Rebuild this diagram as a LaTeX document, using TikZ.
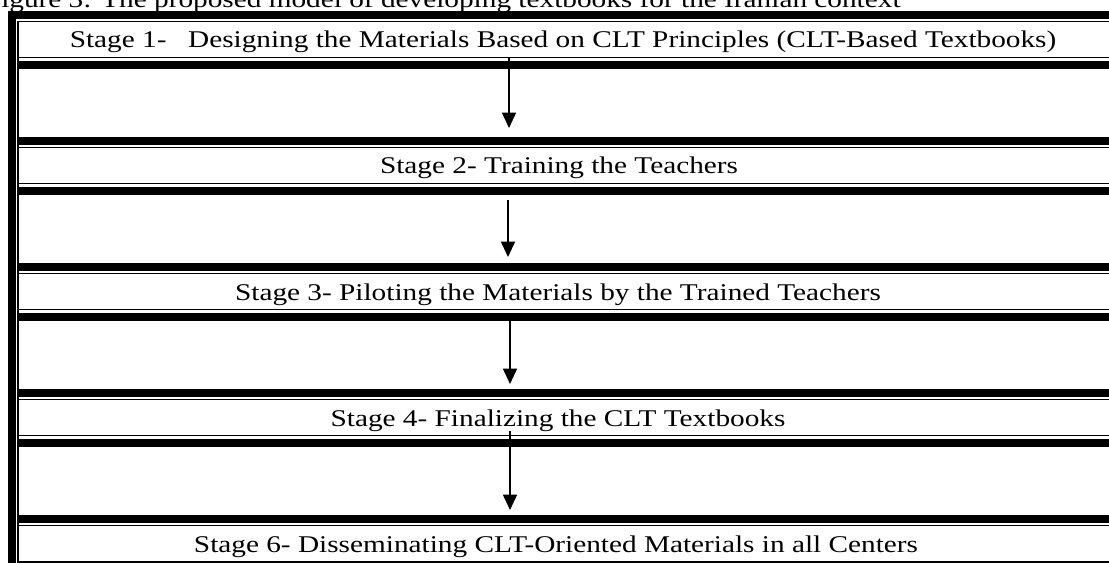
\documentclass[tikz,border=0pt]{standalone}
\usepackage{fontspec}
\setmainfont{Liberation Serif}[FakeStretch=1.22]
\usetikzlibrary{arrows.meta}

\begin{document}
\begin{tikzpicture}[x=0.75pt,y=-0.75pt,
        fino/.style={line width=1.4pt},
        etapa/.style={anchor=base,inner sep=0pt,font=\fontsize{18}{22}\selectfont},
        flecha/.style={-{Triangle[width=10.5pt,length=11.5pt]},line width=1.2pt}]
    %colores
    \colorlet{borde}{black}

    \clip (0,0) rectangle (1109,563);

    % Titulo
    \node[etapa,anchor=base west] (titulo) at (1,8) {igure 3: The proposed model of developing textbooks for the Iranian context};

    % Marco
    \fill[borde] (8,11) rectangle (16,563);
    \fill[borde] (8,11) rectangle (1115,19);
    \draw[borde,fino] (18,21.5) -- (18,563);
    \draw[borde,fino] (18,562.5) -- (1115,562.5);

    % Filas con texto
    \foreach \k/\cx/\txt in {1/563/{Stage 1-\hspace{0.9em}Designing the Materials Based on CLT Principles (CLT-Based Textbooks)},
        2/559/{Stage 2- Training the Teachers},
        3/558/{Stage 3- Piloting the Materials by the Trained Teachers},
        4/558/{Stage 4- Finalizing the CLT Textbooks},
        5/556/{Stage 6- Disseminating CLT-Oriented Materials in all Centers}}
    {
        \draw[borde,fino] (18,21.5+126*\k-126) rectangle (1115,57.5+126*\k-126);
        \node[etapa] (s\k) at (\cx,48+126*\k-126) {\txt};
    }

    % Barras gruesas
    \foreach \k in {1,...,4}
    {
        \fill[borde] (17,61+126*\k-126) rectangle (1115,69+126*\k-126);
        \fill[borde] (17,137+126*\k-126) rectangle (1115,145+126*\k-126);
    }

    % Flechas
    \coordinate (a1) at (509,57);  \coordinate (b1) at (509,128);
    \coordinate (a2) at (508,200); \coordinate (b2) at (508,257);
    \coordinate (a3) at (510,318); \coordinate (b3) at (510,384);
    \coordinate (a4) at (510,431); \coordinate (b4) at (510,510);
    \foreach \i in {1,...,4}
        \draw[borde,flecha] (a\i) -- (b\i);
\end{tikzpicture}
\end{document}
